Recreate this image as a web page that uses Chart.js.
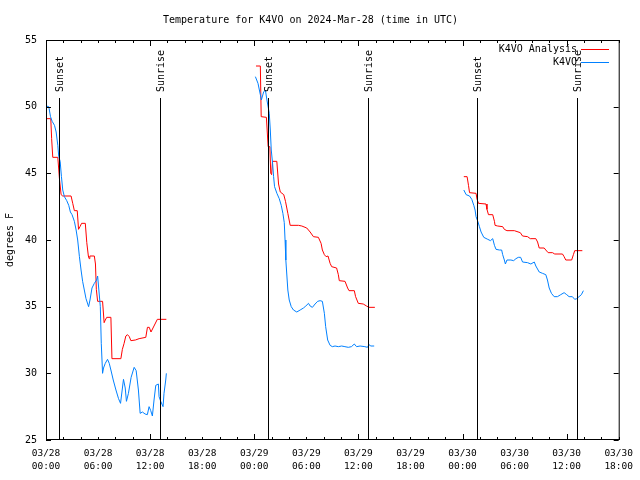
<!DOCTYPE html>
<html>
<head>
<meta charset="utf-8">
<script src="https://cdn.jsdelivr.net/npm/chart.js@4.4.1/dist/chart.umd.min.js"></script>
<style>
  html, body { margin: 0; padding: 0; background: #fff; }
  #wrap { width: 640px; height: 480px; }
</style>
</head>
<body>
<div id="wrap"><canvas id="chart" width="640" height="480"></canvas></div>
<script>
// hours since 03/28 00:00 UTC, null splits the three nights
const analysisHours = [
  0.08, 0.55, 0.65, 0.78, 1.36, 1.55, 1.74, 1.93, 2.89, 3.08, 3.27, 3.6, 3.75, 3.92, 4.1, 4.53,
  4.7, 4.88, 4.97, 5.05, 5.57, 5.7, 5.8, 5.95, 6.52, 6.7, 6.83, 7.0, 7.48, 7.6, 8.63, 8.8,
  9.0, 9.2, 9.39, 9.6, 9.78, 10.3, 10.73, 11.5, 11.69, 11.9, 12.1, 12.83, 13.87,
  13.9,
  24.2, 24.7, 24.8, 25.4, 25.6, 25.8, 25.9, 26.0, 26.1, 26.6, 26.8, 27.0, 27.4, 27.6, 27.87, 28.14,
  29.1, 29.48, 30.05, 30.44, 30.82, 31.39, 31.7, 31.85, 32.08, 32.28, 32.5, 32.74, 32.92, 33.49,
  33.69, 33.8, 34.46, 34.76, 34.92, 35.53, 35.68, 35.99, 36.56, 36.94, 37.21, 37.9,
  37.95,
  48.15, 48.53, 48.69, 48.81, 49.56, 49.68, 49.84, 50.71, 50.82, 50.99, 51.48, 51.68, 51.75, 52.05,
  52.63, 52.82, 53.12, 53.97, 54.66, 54.92, 55.5, 55.81, 56.45, 56.65, 56.84, 57.41, 57.6, 57.87,
  58.37, 58.63, 59.52, 59.71, 59.9, 60.58, 60.78, 60.93, 61.81
];
const analysisTemps = [
  49.1, 49.1, 47.6, 46.2, 46.2, 44.6, 43.4, 43.3, 43.3, 42.75, 42.2, 42.2, 40.8, 41.0, 41.25, 41.25,
  39.8, 38.8, 38.6, 38.8, 38.8, 38.2, 36.3, 35.4, 35.4, 33.8, 34.0, 34.2, 34.2, 31.1, 31.1, 31.8,
  32.25, 32.8, 32.9, 32.75, 32.45, 32.5, 32.6, 32.7, 33.45, 33.45, 33.1, 34.05, 34.05,
  null,
  53.05, 53.05, 49.25, 49.2, 47.0, 47.0, 45.0, 44.9, 45.9, 45.9, 44.2, 43.6, 43.4, 42.9, 42.0, 41.1,
  41.1, 41.05, 40.9, 40.6, 40.25, 40.2, 39.75, 39.25, 38.9, 38.75, 38.8, 38.25, 38.0, 37.9,
  37.4, 36.95, 36.9, 36.4, 36.2, 36.2, 35.75, 35.25, 35.2, 35.05, 34.95, 34.95,
  null,
  44.75, 44.75, 44.1, 43.55, 43.5, 43.05, 42.75, 42.7, 42.3, 41.9, 41.9, 41.4, 41.1, 41.05,
  41.0, 40.8, 40.7, 40.7, 40.55, 40.3, 40.25, 40.1, 40.1, 39.85, 39.4, 39.4, 39.25, 39.05,
  39.05, 38.95, 38.95, 38.75, 38.5, 38.5, 38.9, 39.2, 39.2
];

const stationHours = [
  0.02, 0.32, 0.52, 0.71, 0.98, 1.17, 1.36, 1.47, 1.63, 1.78, 1.93, 2.12, 2.39, 2.62, 2.81, 3.0,
  3.27, 3.47, 3.65, 3.85, 4.04, 4.22, 4.61, 4.91, 5.07, 5.3, 5.57, 5.83, 5.95, 6.26, 6.37, 6.52,
  6.63, 6.83, 7.09, 7.29, 7.48, 7.75, 8.06, 8.36, 8.59, 8.75, 8.93, 9.13, 9.27, 9.5, 9.81, 10.16,
  10.39, 10.65, 10.85, 11.11, 11.42, 11.68, 11.88, 12.07, 12.26, 12.45, 12.65, 12.95, 13.03, 13.22,
  13.49, 13.6, 13.8, 13.87,
  13.9,
  24.13, 24.43, 24.7, 24.82, 25.08, 25.28, 25.46, 25.73, 25.85, 25.96, 26.11, 26.23, 26.34, 26.61,
  26.88, 27.11, 27.3, 27.46, 27.55, 27.64, 27.87, 28.03, 28.26, 28.52, 28.9, 29.29, 29.67, 29.94,
  30.25, 30.44, 30.7, 31.01, 31.31, 31.59, 31.85, 32.08, 32.23, 32.46, 32.74, 33.0, 33.31, 33.69,
  34.07, 34.45, 34.84, 35.2, 35.53, 35.79, 36.2, 36.75, 37.05, 37.21, 37.44, 37.82,
  37.9,
  48.15, 48.42, 48.81, 49.07, 49.3, 49.45, 49.56, 49.76, 49.95, 50.14, 50.45, 50.91, 51.22, 51.48,
  51.68, 51.86, 52.25, 52.51, 52.63, 52.82, 52.94, 53.12, 53.58, 53.89, 54.16, 54.43, 54.7, 54.92,
  55.5, 55.88, 56.27, 56.45, 56.84, 57.22, 57.6, 57.79, 57.99, 58.25, 58.56, 58.94, 59.32, 59.71,
  60.01, 60.28, 60.66, 60.93, 61.16, 61.43, 61.7, 61.93
];
const stationTemps = [
  50.05, 50.0, 49.25, 48.9, 48.6, 48.1, 47.1, 46.25, 45.9, 44.75, 43.75, 43.25, 42.95, 42.6, 42.1, 41.9,
  41.4, 40.75, 40.0, 38.75, 37.75, 36.9, 35.6, 35.0, 35.5, 36.4, 36.75, 37.0, 37.3, 35.0, 32.25, 30.0,
  30.4, 30.75, 31.05, 30.75, 30.25, 29.5, 28.75, 28.1, 27.75, 28.6, 29.55, 28.9, 27.9, 28.5, 29.7, 30.45,
  30.2, 28.75, 27.0, 27.1, 26.95, 26.9, 27.5, 27.2, 26.8, 28.0, 29.1, 29.2, 28.25, 27.9,
  27.5, 28.5, 29.5, 30.0,
  null,
  52.25, 51.75, 50.9, 50.5, 51.1, 51.25, 50.5, 49.5, 48.25, 46.75, 45.75, 44.75, 44.0, 43.5,
  43.1, 42.6, 42.0, 41.3, 40.0, 38.5, 36.25, 35.5, 35.0, 34.75, 34.6, 34.75, 34.9, 35.05,
  35.25, 35.05, 34.95, 35.2, 35.4, 35.45, 35.4, 34.5, 33.5, 32.5, 32.1, 32.0, 32.05, 32.0,
  32.05, 32.0, 31.95, 32.0, 32.2, 32.0, 32.05, 32.0, 31.95, 32.15, 32.05, 32.05,
  null,
  43.75, 43.4, 43.3, 43.05, 42.6, 42.25, 41.75, 41.4, 41.0, 40.6, 40.2, 40.05, 39.95, 40.1,
  39.6, 39.3, 39.25, 39.25, 38.9, 38.5, 38.2, 38.5, 38.5, 38.45, 38.6, 38.7, 38.7, 38.35,
  38.3, 38.2, 38.35, 38.05, 37.6, 37.5, 37.4, 37.0, 36.4, 36.0, 35.75, 35.75, 35.9, 36.05,
  35.9, 35.75, 35.75, 35.55, 35.6, 35.75, 35.9, 36.2
];

const sunsetHours = [1.5, 25.55, 49.65];
const sunriseHours = [13.12, 37.15, 61.2];

const tickDates = ["03/28", "03/28", "03/28", "03/28", "03/29", "03/29", "03/29", "03/29", "03/30", "03/30", "03/30", "03/30"];
const tickTimes = ["00:00", "06:00", "12:00", "18:00", "00:00", "06:00", "12:00", "18:00", "00:00", "06:00", "12:00", "18:00"];

const MONO = "'DejaVu Sans Mono', monospace";

function toPoints(hours, temps) {
  return hours.map((h, i) => ({ x: h, y: temps[i] }));
}

// gnuplot look: inward ticks, box border, sun lines, legend top right
const gnuplotBits = {
  id: "gnuplotBits",
  afterDatasetsDraw(chart) {
    const { ctx, chartArea: a } = chart;
    const xs = chart.scales.x;
    const ys = chart.scales.y;
    ctx.save();
    ctx.strokeStyle = "#000";
    ctx.lineWidth = 1;

    ctx.beginPath();
    xs.ticks.forEach((t) => {
      const px = Math.round(xs.getPixelForValue(t.value)) + 0.5;
      const len = t.value % 12 === 0 ? 6 : 3;
      ctx.moveTo(px, a.bottom);
      ctx.lineTo(px, a.bottom - len);
      ctx.moveTo(px, a.top);
      ctx.lineTo(px, a.top + len);
    });
    ys.ticks.forEach((t) => {
      const py = Math.round(ys.getPixelForValue(t.value)) + 0.5;
      ctx.moveTo(a.left, py);
      ctx.lineTo(a.left + 5, py);
      ctx.moveTo(a.right, py);
      ctx.lineTo(a.right - 5, py);
    });
    ctx.stroke();

    // sunset / sunrise markers
    const lineTop = ys.getPixelForValue(50.65);
    const textBase = ys.getPixelForValue(51.1);
    ctx.font = "10px " + MONO;
    ctx.fillStyle = "#000";
    const mark = (h, label) => {
      const px = Math.round(xs.getPixelForValue(h)) + 0.5;
      ctx.beginPath();
      ctx.moveTo(px, a.bottom);
      ctx.lineTo(px, lineTop);
      ctx.stroke();
      ctx.save();
      ctx.translate(px + 1, textBase);
      ctx.rotate(-Math.PI / 2);
      ctx.textAlign = "left";
      ctx.textBaseline = "middle";
      ctx.fillText(label, 0, 0);
      ctx.restore();
    };
    sunsetHours.forEach((h) => mark(h, "Sunset"));
    sunriseHours.forEach((h) => mark(h, "Sunrise"));

    // border box
    ctx.strokeRect(a.left + 0.5, a.top + 0.5, a.right - a.left, a.bottom - a.top - 1);

    // legend
    ctx.textAlign = "right";
    ctx.textBaseline = "middle";
    chart.data.datasets.forEach((ds, i) => {
      const y = 49 + i * 13;
      ctx.fillStyle = "#000";
      ctx.fillText(ds.label, 577, y);
      ctx.strokeStyle = ds.borderColor;
      ctx.beginPath();
      ctx.moveTo(581, y + 0.5);
      ctx.lineTo(609, y + 0.5);
      ctx.stroke();
    });
    ctx.restore();
  }
};

Chart.defaults.color = "#000";
Chart.defaults.font.family = MONO;
Chart.defaults.font.size = 10;

new Chart(document.getElementById("chart"), {
  type: "line",
  data: {
    datasets: [
      {
        label: "K4VO Analysis",
        data: toPoints(analysisHours, analysisTemps),
        borderColor: "#ff0000",
        borderWidth: 1,
        pointRadius: 0,
        tension: 0,
        spanGaps: false,
        order: 1
      },
      {
        label: "K4VO",
        data: toPoints(stationHours, stationTemps),
        borderColor: "#0080ff",
        borderWidth: 1,
        pointRadius: 0,
        tension: 0,
        spanGaps: false,
        order: 0
      }
    ]
  },
  options: {
    responsive: false,
    animation: false,
    layout: { padding: { right: 19, top: 0, bottom: 0, left: 0 } },
    plugins: {
      legend: { display: false },
      tooltip: { enabled: false },
      title: {
        display: true,
        text: "Temperature for K4VO on 2024-Mar-28 (time in UTC)",
        color: "#000",
        font: { family: MONO, size: 10, weight: "normal", lineHeight: 1.2 },
        padding: { top: 14, bottom: 14 }
      }
    },
    scales: {
      x: {
        type: "linear",
        min: 0,
        max: 66,
        grid: { display: false, drawTicks: false },
        border: { display: false },
        ticks: {
          stepSize: 2,
          autoSkip: false,
          maxRotation: 0,
          padding: 7,
          font: { family: MONO, size: 9.5, lineHeight: 1.4 },
          callback: (v) => (v % 6 === 0 ? [tickDates[v / 6], tickTimes[v / 6]] : "")
        },
        afterFit: (scale) => { scale.height = 40; }
      },
      y: {
        min: 25,
        max: 55,
        grid: { display: false, drawTicks: false },
        border: { display: false },
        ticks: { stepSize: 5, padding: 9, font: { family: MONO, size: 10 } },
        title: {
          display: true,
          text: "degrees F",
          font: { family: MONO, size: 10, lineHeight: 1.2 },
          padding: { top: 4, bottom: 0 }
        },
        afterFit: (scale) => { scale.width = 46; }
      }
    }
  },
  plugins: [gnuplotBits]
});
</script>
</body>
</html>
